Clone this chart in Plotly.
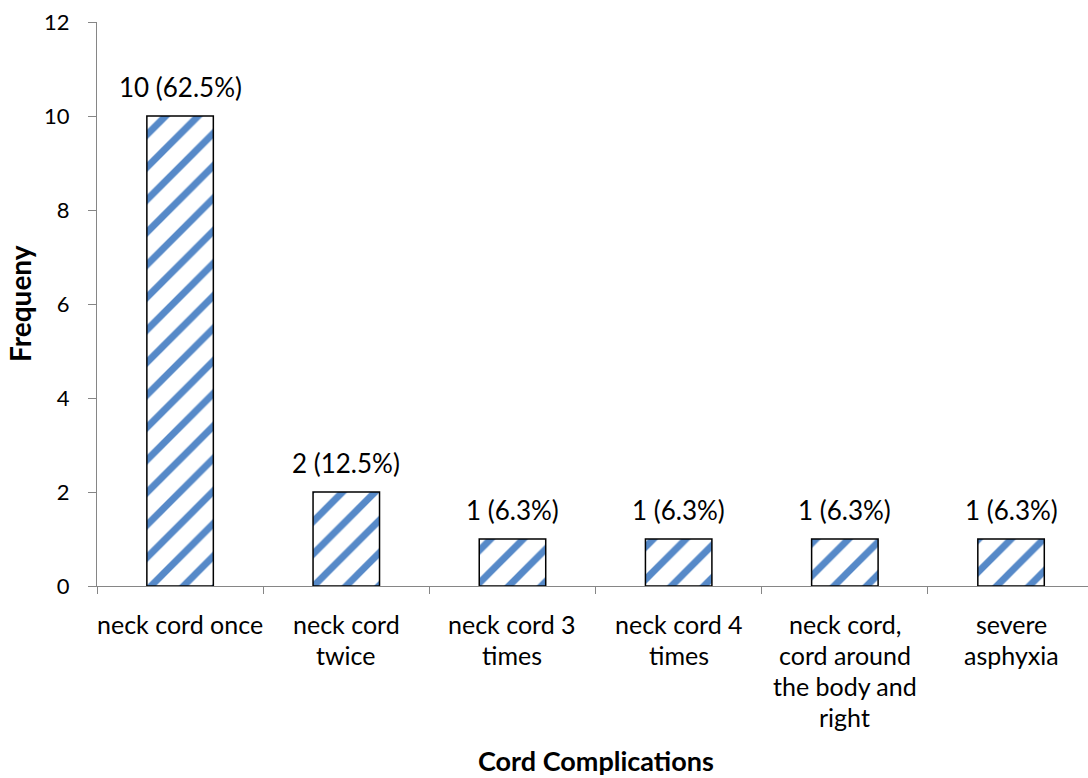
import plotly.graph_objects as go

# Cord complication counts and their share of cases
categories = [
    "neck cord once",
    "neck cord twice",
    "neck cord 3 times",
    "neck cord 4 times",
    "neck cord, cord around the body and right",
    "severe asphyxia",
]
# wrapped lines for the category labels under the axis
category_lines = [
    ["neck cord once"],
    ["neck cord", "twice"],
    ["neck cord 3", "times"],
    ["neck cord 4", "times"],
    ["neck cord,", "cord around", "the body and", "right"],
    ["severe", "asphyxia"],
]
frequency = [10, 2, 1, 1, 1, 1]
percent = ["62.5%", "12.5%", "6.3%", "6.3%", "6.3%", "6.3%"]
y_ticks = [0, 2, 4, 6, 8, 10, 12]

FONT = "Lato"
AXIS_GREY = "#868686"
STRIPE = "#5689C8"

fig = go.Figure()
fig.add_trace(
    go.Bar(
        x=categories,
        y=frequency,
        width=0.4,
        marker=dict(
            color="white",
            line=dict(color="black", width=1.5),
            pattern=dict(shape="/", fgcolor=STRIPE, bgcolor="white",
                         size=23, solidity=0.3, fillmode="replace"),
        ),
        hoverinfo="skip",
    )
)

annotations = []
# value labels above each bar
for cat, v, p in zip(categories, frequency, percent):
    annotations.append(dict(
        x=cat, y=v, xref="x", yref="y", text=f"{v} ({p})",
        showarrow=False, yanchor="bottom", yshift=11,
        font=dict(family=FONT, size=26, color="black"),
    ))

# multi-line category labels
for cat, lines in zip(categories, category_lines):
    for i, line in enumerate(lines):
        annotations.append(dict(
            x=cat, y=0, xref="x", yref="paper", text=line,
            showarrow=False, yanchor="middle", yshift=-(38 + 31 * i),
            font=dict(family=FONT, size=25, color="black"),
        ))

# axis titles
annotations.append(dict(
    x=0.5, y=0, xref="paper", yref="paper", text="<b>Cord Complications</b>",
    showarrow=False, xanchor="center", yanchor="middle", yshift=-174,
    xshift=3, font=dict(family=FONT, size=27, color="black"),
))
annotations.append(dict(
    x=0, y=0.5, xref="paper", yref="paper", text="<b>Frequeny</b>",
    showarrow=False, xanchor="center", yanchor="middle", xshift=-77,
    textangle=-90, font=dict(family=FONT, size=28, color="black"),
))

fig.update_layout(
    width=1088,
    height=778,
    margin=dict(l=97, r=0, t=22, b=192),
    paper_bgcolor="white",
    plot_bgcolor="white",
    showlegend=False,
    font=dict(family=FONT, size=22, color="black"),
    annotations=annotations,
    xaxis=dict(
        type="category",
        range=[-0.5, 5.463],
        showticklabels=False,
        tickson="boundaries",
        ticks="outside",
        ticklen=7,
        tickcolor=AXIS_GREY,
        showline=True,
        linecolor=AXIS_GREY,
        linewidth=1,
        showgrid=False,
        zeroline=False,
    ),
    yaxis=dict(
        range=[0, 12],
        tickvals=y_ticks,
        ticks="outside",
        ticklen=8,
        tickcolor=AXIS_GREY,
        ticklabelstandoff=14,
        showline=True,
        linecolor=AXIS_GREY,
        linewidth=1,
        showgrid=False,
        zeroline=False,
        tickfont=dict(family=FONT, size=22, color="black"),
    ),
)

fig.write_html("out.html")
